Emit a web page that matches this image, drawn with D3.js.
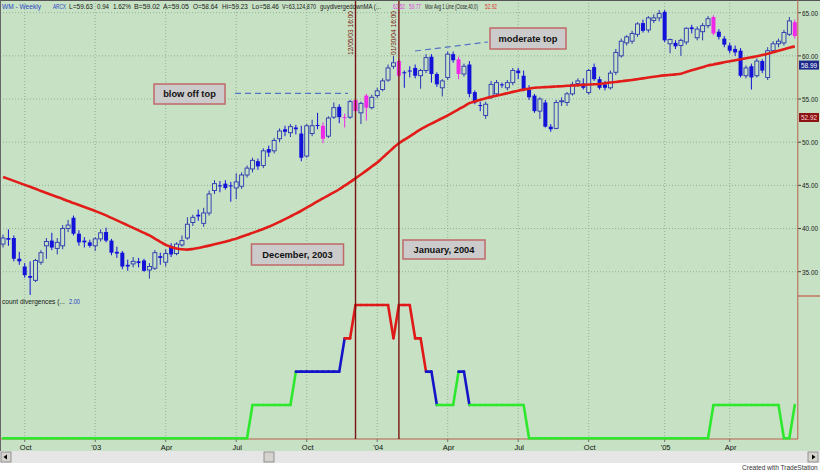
<!DOCTYPE html>
<html><head><meta charset="utf-8">
<script src="https://cdn.jsdelivr.net/npm/d3@7"></script>
<style>body{margin:0;background:#fff}svg{display:block;font-family:Arial,"Liberation Sans",sans-serif}</style>
</head><body><svg id="c" width="820" height="471"></svg>
<script>
// ---------- DATA ----------
const startWeek = "2002-09-06"; // first weekly bar (Fridays)
const opens = [38.2,38.9,38.9,36.5,35.6,34.5,34.0,36.1,38.0,38.6,
37.7,38.0,40.0,41.25,39.4,38.6,38.4,38.0,38.8,39.6,
38.6,37.3,37.2,35.8,35.9,36.2,36.3,35.2,35.4,36.8,
36.1,38.0,37.1,38.1,38.9,40.7,41.6,40.6,41.8,44.4,
45.0,45.2,45.0,44.7,44.9,46.2,46.9,47.8,47.3,49.2,
49.0,50.4,51.5,51.1,51.7,51.0,48.4,51.0,52.0,51.9,
50.7,52.9,54.1,52.9,52.9,54.9,53.4,55.4,54.0,55.4,
56.1,57.2,58.8,59.4,58.1,58.3,58.6,57.7,58.3,59.9,
57.9,56.3,57.5,60.2,59.6,57.9,59.0,55.8,54.3,53.1,
55.2,55.6,56.7,56.3,56.9,58.3,57.7,56.1,55.4,53.6,
54.6,51.8,51.6,54.7,54.6,55.6,56.8,56.8,55.75,58.7,
57.3,56.7,56.3,58.1,60.0,61.5,61.7,62.5,63.8,63.0,
64.1,64.4,65.1,61.4,61.5,61.2,61.6,63.3,62.1,62.8,
63.5,64.5,62.8,62.0,61.2,60.8,60.6,57.7,58.8,57.7,
59.4,57.5,60.6,61.4,61.5,62.5,63.9];
const highs = [39.3,39.9,39.2,37.3,36.0,36.2,36.5,37.5,38.9,39.5,
38.9,40.4,41.0,41.5,39.8,39.0,38.7,39.0,39.9,40.1,
38.8,37.9,37.4,36.4,36.7,36.6,36.5,36.0,37.5,37.2,
37.6,38.3,38.4,39.2,41.3,41.6,42.2,42.4,44.4,45.6,
45.5,45.6,45.4,46.4,46.5,47.3,48.2,48.1,49.3,49.6,
50.5,51.6,51.9,52.1,52.0,51.9,52.1,52.6,53.4,52.3,
53.0,54.6,54.4,53.3,54.9,55.2,54.7,55.6,55.5,56.3,
57.4,59.0,60.0,59.6,58.3,58.8,59.0,58.5,60.2,60.2,
58.1,57.3,60.5,60.5,59.9,59.1,59.4,56.0,54.7,54.7,
57.1,57.2,56.9,57.2,58.6,58.6,58.3,56.6,55.6,55.2,
54.9,52.1,54.9,55.2,55.8,57.0,57.4,57.4,58.5,59.1,
57.6,57.1,58.3,60.8,62.0,62.4,62.9,63.9,64.2,64.6,
64.8,65.3,65.3,62.0,61.8,62.0,63.3,63.6,63.4,63.8,
64.6,64.7,63.1,62.3,61.5,61.2,60.9,58.9,59.1,59.7,
59.6,61.0,61.7,62.0,63.0,64.5,64.2];
const lows = [37.8,38.0,36.2,35.8,34.3,32.3,33.8,35.8,36.5,37.5,
37.0,37.6,39.6,39.2,38.0,37.8,37.8,37.4,38.5,38.4,
36.9,36.6,35.3,35.1,35.5,35.5,35.0,34.2,35.2,35.8,
35.6,36.7,36.9,37.9,38.7,40.3,40.9,40.2,41.5,44.0,
44.2,44.5,43.1,43.4,44.6,45.9,46.5,46.8,47.0,48.3,
48.7,50.0,50.7,50.6,50.9,47.8,48.2,50.7,51.5,49.9,
50.5,52.7,52.2,51.7,52.7,53.3,52.1,52.5,53.8,55.1,
55.9,57.0,58.5,57.5,56.3,57.5,57.4,56.2,58.0,56.9,
56.4,55.3,57.2,59.2,57.3,57.6,55.2,54.4,53.6,52.7,
55.0,55.3,56.3,56.0,56.6,57.3,55.9,54.9,53.4,52.7,
51.7,51.2,51.5,54.2,54.2,55.4,56.4,56.1,55.5,57.1,
56.1,56.0,56.1,57.8,59.8,61.2,61.4,62.2,62.7,62.7,
63.8,64.0,61.6,60.3,60.8,60.0,61.3,62.6,61.8,61.8,
63.2,62.4,61.9,61.0,60.3,60.0,57.5,57.4,56.1,57.5,
58.0,57.2,60.4,61.0,61.2,62.3,62.0];
const closes = [38.9,38.7,36.5,36.2,34.6,34.3,36.3,37.2,38.5,37.8,
38.4,40.0,40.4,39.4,38.4,38.4,38.0,38.8,39.5,38.6,
37.2,37.1,35.6,35.6,36.2,36.0,35.1,35.6,37.2,36.6,
37.1,37.0,38.2,38.6,40.5,41.3,41.4,41.8,44.0,45.2,
44.9,44.7,44.9,45.4,46.2,47.0,47.9,47.2,49.0,48.8,
50.2,51.3,51.2,51.8,51.5,48.2,51.9,51.9,51.9,50.4,
52.8,54.0,52.9,52.8,54.7,53.6,54.5,54.0,55.2,55.95,
57.1,58.6,59.2,57.7,58.0,58.2,57.7,58.3,59.8,57.9,
56.7,57.1,60.2,59.5,57.9,58.8,55.6,54.6,54.2,54.4,
56.7,56.9,56.6,56.9,58.3,58.0,56.1,55.2,53.6,55.0,
51.8,51.5,54.6,54.8,55.6,56.7,57.1,56.3,58.3,57.3,
56.3,56.3,58.0,60.4,61.7,62.2,62.6,63.7,62.9,64.4,
64.4,64.9,61.8,61.9,61.1,61.8,63.2,63.1,63.1,63.5,
64.3,62.6,62.2,61.3,60.6,60.4,57.7,58.6,57.5,59.4,
58.3,60.6,61.4,61.7,62.7,64.05,62.3];
const ma40 = [45.98,45.75,45.52,45.29,45.06,44.83,44.60,44.35,44.12,43.89,
43.66,43.43,43.18,42.95,42.72,42.49,42.26,42.03,41.79,41.52,
41.23,40.94,40.66,40.37,40.08,39.78,39.49,39.20,38.84,38.46,
38.10,37.87,37.69,37.60,37.56,37.63,37.74,37.88,38.02,38.17,
38.32,38.46,38.65,38.83,39.06,39.27,39.50,39.72,39.94,40.20,
40.48,40.78,41.08,41.40,41.72,42.06,42.42,42.78,43.14,43.50,
43.84,44.18,44.55,44.97,45.38,45.81,46.26,46.71,47.18,47.64,
48.21,48.77,49.35,49.88,50.29,50.68,51.09,51.49,51.84,52.15,
52.47,52.78,53.10,53.45,53.81,54.16,54.53,54.72,54.91,55.09,
55.25,55.39,55.53,55.68,55.83,55.97,56.09,56.20,56.31,56.34,
56.38,56.41,56.45,56.48,56.53,56.56,56.61,56.64,56.68,56.71,
56.75,56.83,56.91,56.98,57.06,57.13,57.21,57.30,57.39,57.49,
57.58,57.67,57.74,57.80,57.86,57.94,58.14,58.32,58.51,58.69,
58.89,59.00,59.13,59.25,59.38,59.49,59.61,59.72,59.84,59.95,
60.09,60.25,60.43,60.59,60.76,60.94,61.10];
const divCount = [0,0,0,0,0,0,0,0,0,0,
0,0,0,0,0,0,0,0,0,0,
0,0,0,0,0,0,0,0,0,0,
0,0,0,0,0,0,0,0,0,0,
0,0,0,0,0,0,1,1,1,1,
1,1,1,1,2,2,2,2,2,2,
2,2,2,3,3,4,4,4,4,4,
4,4,3,4,4,4,3,3,2,2,
1,1,1,1,2,2,1,1,1,1,
1,1,1,1,1,1,1,0,0,0,
0,0,0,0,0,0,0,0,0,0,
0,0,0,0,0,0,0,0,0,0,
0,0,0,0,0,0,0,0,0,0,
0,1,1,1,1,1,1,1,1,1,
1,1,1,1,0,0,1];
const pinkBars = [59,63,65,67,73,84,131,146];
const priceTicks = [35,40,45,50,55,60,65];
const tickMonths = ["2002-10","2003-01","2003-04","2003-07","2003-10","2004-01","2004-04","2004-07","2004-10","2005-01","2005-04"];
const tickLabels = ["Oct","'03","Apr","Jul","Oct","'04","Apr","Jul","Oct","'05","Apr"];
const markerDates = ["2003-12-05","2004-01-30"];
const markerLabels = ["12/05/03 16:00","01/30/04 16:00"];
const lastPrice = 58.99, maLabel = 52.92;

// ---------- SETUP ----------
const BG = "#c6e1c4";
const svg = d3.select("#c");
const parse = d3.utcParse("%Y-%m-%d");
const dates = opens.map((_, i) => d3.utcDay.offset(parse(startWeek), 7 * i));
const x = d3.scaleBand().domain(dates.map(d => +d)).range([0.3, 797.5]).padding(0);
const cx = i => x(+dates[i]) + x.bandwidth() / 2;
const y = d3.scaleLinear().domain([35, 65]).range([271.7, 12.7]);
const yl = d3.scaleLinear().domain([0, 4]).range([438.3, 305]);
const fmtM = d3.utcFormat("%Y-%m");

// text squeezed horizontally to a target width (condensed screen font look)
function fitText(g, t, tx, ty, w, size, fill, anchor) {
  const el = g.append("text").attr("x", 0).attr("y", 0).attr("font-size", size).attr("fill", fill).text(t);
  const w0 = el.node().getComputedTextLength();
  const s = w / w0;
  const ox = anchor === "end" ? tx - w : tx;
  el.attr("transform", `translate(${ox},${ty}) scale(${s},1)`);
  return el;
}

svg.append("rect").attr("width", 820).attr("height", 471).attr("fill", "#ffffff");
svg.append("rect").attr("width", 820).attr("height", 451).attr("fill", BG);

// grid
const grid = svg.append("g");
priceTicks.forEach(p => grid.append("line").attr("x1", 0).attr("x2", 797).attr("y1", y(p)).attr("y2", y(p))
  .attr("stroke", "#8aa58a").attr("stroke-width", 0.8).attr("stroke-dasharray", "1,2"));
const tickIdx = tickMonths.map(m => dates.findIndex(d => fmtM(d) === m));
tickIdx.forEach(i => grid.append("line").attr("x1", cx(i)).attr("x2", cx(i)).attr("y1", 0).attr("y2", 439)
  .attr("stroke", "#8aa58a").attr("stroke-width", 0.8).attr("stroke-dasharray", "1,2"));

// x axis labels
const xa = svg.append("g").attr("font-size", "7.5px").attr("fill", "#111").attr("text-anchor", "middle");
tickIdx.forEach((i, k) => {
  xa.append("line").attr("x1", cx(i)).attr("x2", cx(i)).attr("y1", 439).attr("y2", 442).attr("stroke", "#555").attr("stroke-width", 0.8);
  xa.append("text").attr("x", cx(i) + 1).attr("y", 449.5).text(tickLabels[k]);
});

// borders
svg.append("line").attr("x1", 0).attr("x2", 820).attr("y1", 0.5).attr("y2", 0.5).attr("stroke", "#555");
svg.append("line").attr("x1", 0.5).attr("x2", 0.5).attr("y1", 0).attr("y2", 451).attr("stroke", "#666");
svg.append("line").attr("x1", 797.8).attr("x2", 797.8).attr("y1", 0).attr("y2", 439).attr("stroke", "#b8604c").attr("stroke-width", 1);
svg.append("line").attr("x1", 0).attr("x2", 798).attr("y1", 439).attr("y2", 439).attr("stroke", "#b8604c").attr("stroke-width", 1);
svg.append("line").attr("x1", 798).attr("x2", 820).attr("y1", 296).attr("y2", 296).attr("stroke", "#c04030").attr("stroke-width", 1);

// right axis
const ra = svg.append("g");
priceTicks.forEach(p => {
  ra.append("line").attr("x1", 798).attr("x2", 801).attr("y1", y(p)).attr("y2", y(p)).attr("stroke", "#444");
  fitText(ra, p.toFixed(2), 802, y(p) + 2.8, 16, "7.8px", "#222");
});
[[lastPrice, "#1c2a8c", "#ffffff"], [maLabel, "#8c1414", "#ffd8d8"]].forEach(([v, bg, fg]) => {
  ra.append("rect").attr("x", 799).attr("y", y(v) - 4).attr("width", 20).attr("height", 9).attr("fill", bg);
  fitText(ra, v.toFixed(2), 801, y(v) + 3, 16, "7.8px", fg);
});

// ---------- CANDLES ----------
const BLUE = "#1212d8", HOLLOW = "#2a38b0", PINK = "#f028e8";
const idx = d3.range(opens.length);
const isPink = i => pinkBars.includes(i);
const col = i => isPink(i) ? PINK : (closes[i] >= opens[i] ? HOLLOW : BLUE);
const cg = svg.append("g");
cg.selectAll("line.w").data(idx).join("line")
  .attr("x1", cx).attr("x2", cx).attr("y1", i => y(highs[i])).attr("y2", i => y(lows[i]))
  .attr("stroke", col).attr("stroke-width", 1);
cg.selectAll("rect.b").data(idx).join("rect")
  .attr("x", i => cx(i) - 2).attr("width", 4)
  .attr("y", i => y(Math.max(opens[i], closes[i])))
  .attr("height", i => Math.max(1, Math.abs(y(opens[i]) - y(closes[i]))))
  .attr("fill", i => (isPink(i) || closes[i] < opens[i]) ? col(i) : BG)
  .attr("stroke", i => (isPink(i) || closes[i] < opens[i]) ? "none" : HOLLOW)
  .attr("stroke-width", 0.9);

// moving average
svg.append("path").datum(idx).attr("fill", "none").attr("stroke", "#e21c18").attr("stroke-width", 2.6)
  .attr("stroke-linejoin", "round")
  .attr("d", d3.line().x(cx).y(i => y(ma40[i])).curve(d3.curveMonotoneX));

// ---------- LOWER PANEL ----------
const divColor = v => v >= 3 ? "#e01818" : (v === 2 ? "#1414c8" : "#2ee82e");
const lg = svg.append("g");
d3.range(divCount.length - 1).forEach(i => {
  lg.append("path").attr("d", d3.line()([[cx(i), yl(divCount[i])], [cx(i + 1), yl(divCount[i + 1])]]))
    .attr("stroke", divColor(divCount[i])).attr("stroke-width", 2.6).attr("fill", "none").attr("stroke-linecap", "round");
});

// marker lines
markerDates.forEach((d, k) => {
  const i = dates.findIndex(t => +t === +parse(d));
  const xx = cx(i);
  svg.append("line").attr("x1", xx).attr("x2", xx).attr("y1", 1).attr("y2", 439).attr("stroke", "#7a1410").attr("stroke-width", 1.4);
  svg.append("text").attr("transform", `translate(${xx - 3},55) rotate(-90)`).attr("font-size", "6.6px").attr("fill", "#7a1410").text(markerLabels[k]);
});

// ---------- ANNOTATIONS ----------
const dash = (x1, y1, x2, y2) => svg.append("line").attr("x1", x1).attr("y1", y1).attr("x2", x2).attr("y2", y2)
  .attr("stroke", "#5474c4").attr("stroke-width", 1.2).attr("stroke-dasharray", "6,4");
dash(235, 93.3, 348, 93.3);
dash(415, 51, 488, 42);
const box = (bx, by, bw, bh, t) => {
  svg.append("rect").attr("x", bx).attr("y", by).attr("width", bw).attr("height", bh)
    .attr("fill", "#cbcbcb").attr("stroke", "#c06a68").attr("stroke-width", 1.5);
  svg.append("text").attr("x", bx + bw / 2).attr("y", by + bh / 2 + 3.3).attr("text-anchor", "middle")
    .attr("font-size", "9.3px").attr("font-weight", "bold").attr("fill", "#111").text(t);
};
box(154, 84, 71, 20, "blow off top");
box(490, 28, 76, 21, "moderate top");
box(251.5, 244, 92, 21, "December, 2003");
box(403, 240, 82, 19, "January, 2004");

// ---------- HEADER ----------
const hdr = [["WM - Weekly", 2, 39, "#2a44c8"], ["ARCX", 53, 13, "#2a44c8"], ["L=59.63", 69, 24], ["0.94", 97, 12],
  ["1.62%", 113, 18], ["B=59.02", 134, 26], ["A=59.05", 163, 26], ["O=58.64", 193, 25], ["Hi=59.23", 222, 26],
  ["Lo=58.46", 252, 27], ["V=63,124,870", 282, 34], ["guydivergedownMA (...", 320, 61], ["62.52", 393, 12, "#e040e0"],
  ["59.77", 409, 12, "#e040e0"], ["Mov Avg 1 Line (Close,40,0)", 425, 53], ["52.92", 485, 12, "#e03030"]];
const hg = svg.append("g");
hdr.forEach(([t, hx, w, c]) => fitText(hg, t, hx, 8.5, w, "7px", c || "#1a1a1a"));

fitText(svg, "count divergences (...", 2, 303.5, 63, "7px", "#1a1a1a");
fitText(svg, "2.00", 69, 303.5, 11, "7px", "#2a44c8");

// ---------- SCROLLBAR ----------
const sb = svg.append("g");
sb.append("rect").attr("x", 0).attr("y", 451).attr("width", 820).attr("height", 12).attr("fill", "#e6e6e6");
const btn = (bx) => {
  sb.append("rect").attr("x", bx).attr("y", 452).attr("width", 10).attr("height", 10).attr("fill", "#d6d3ce").attr("stroke", "#808080").attr("stroke-width", 0.8);
};
btn(1); btn(808); btn(264);
sb.append("path").attr("d", "M3.5,457 L7,454.5 L7,459.5Z").attr("fill", "#000");
sb.append("path").attr("d", "M815.5,457 L812,454.5 L812,459.5Z").attr("fill", "#000");
fitText(svg, "Created with TradeStation", 818, 469.5, 76, "7px", "#333", "end");
</script></body></html>
